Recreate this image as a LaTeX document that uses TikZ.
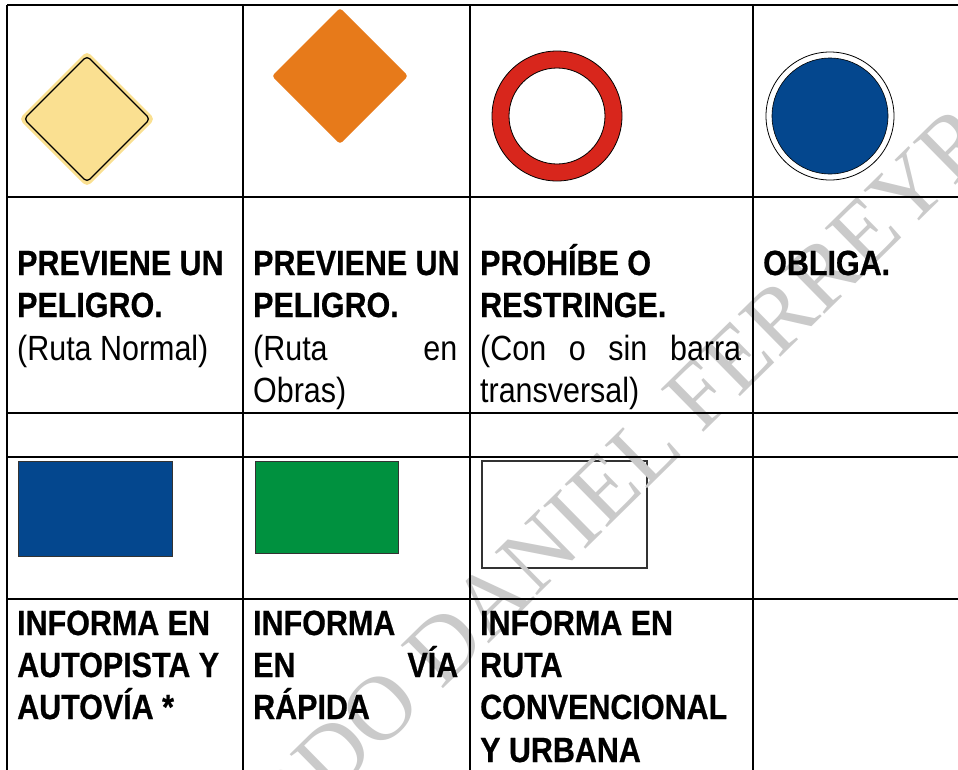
\documentclass[tikz,border=0pt]{standalone}
\usepackage{fontspec}
\setmainfont{Liberation Sans}
\newfontfamily\cellfont[FakeStretch=0.87, BoldFeatures={FakeBold=0.6}]{Liberation Sans}
\newfontfamily\wmfont{Liberation Serif}
\definecolor{signyellow}{HTML}{FAE091}
\definecolor{signorange}{HTML}{E77A1A}
\definecolor{signred}{HTML}{D8261C}
\definecolor{signblue}{HTML}{04478E}
\definecolor{signgreen}{HTML}{00913F}
\definecolor{wmgray}{HTML}{CACACA}
\tikzset{
  hline/.style={line width=1.8pt, black},
  vline/.style={line width=1.2pt, black},
  hd/.style={anchor=base west, inner sep=0pt, font=\cellfont\bfseries\fontsize{35}{42}\selectfont},
  tx/.style={anchor=base west, inner sep=0pt, font=\cellfont\fontsize{35}{42}\selectfont},
  wmark/.style={rotate=44.5, inner sep=0pt, text=wmgray, font=\wmfont\fontsize{92}{92}\selectfont},
  plate/.style={line width=1pt, draw=black!80},
}
\begin{document}
\begin{tikzpicture}[x=1pt,y=-1pt]
\useasboundingbox (0,0) rectangle (958,769);
\clip (0,0) rectangle (958,769);
\fill[white] (0,0) rectangle (958,769);

% row 1 signs
\fill[signyellow, rounded corners=5pt] (87,51) -- (155,119) -- (87,187) -- (19,119) -- cycle;
\draw[line width=1.3pt, rounded corners=4pt] (87,56) -- (150,119) -- (87,182) -- (24,119) -- cycle;
\fill[signorange, rounded corners=3pt] (340,8) -- (408,76) -- (340,144) -- (272,76) -- cycle;
\fill[signred, even odd rule, draw=black, line width=0.8pt] (557,116) circle[radius=65] (557,116) circle[radius=48];
\draw[line width=0.8pt, fill=white] (830,116) circle[radius=64];
\draw[line width=0.6pt, fill=signblue] (830,116) circle[radius=58];

% row 4 plates
\draw[plate, fill=signblue] (18,461) rectangle (172,556);
\draw[plate, fill=signgreen] (255,461) rectangle (398,553);
\draw[plate, line width=1.4pt, fill=white] (482,461) rectangle (647,568);

% watermark
\node[wmark] (wm) at (566,526) {RICARDO DANIEL FERREYRA};

% grid
\foreach \yy in {5,197,413,457,599} \draw[hline] (7,\yy) -- (960,\yy);
\draw[hline] (7,5) -- (7,770);
\foreach \xx in {243,470,753} \draw[vline] (\xx,5) -- (\xx,770);

% row 2 texts
\node[hd] (a1) at (17,275) {PREVIENE UN};
\node[hd] (a2) at (17,317) {PELIGRO.};
\node[tx] (a3) at (17,360) {(Ruta Normal)};
\node[hd] (b1) at (253,275) {PREVIENE UN};
\node[hd] (b2) at (253,317) {PELIGRO.};
\node[tx] (b3) at (253,360) {\makebox[204pt][s]{(Ruta en}};
\node[tx] (b4) at (253,402) {Obras)};
\node[hd] (c1) at (480,275) {PROHÍBE O};
\node[hd] (c2) at (480,317) {RESTRINGE.};
\node[tx] (c3) at (480,360) {\makebox[261pt][s]{(Con o sin barra}};
\node[tx] (c4) at (480,402) {transversal)};
\node[hd] (d1) at (763,275) {OBLIGA.};

% row 5 texts
\node[hd] (e1) at (17,635) {INFORMA EN};
\node[hd] (e2) at (17,677) {AUTOPISTA Y};
\node[hd] (e3) at (17,719) {AUTOVÍA *};
\node[hd] (f1) at (253,635) {INFORMA};
\node[hd] (f2) at (253,677) {\makebox[205pt][s]{EN VÍA}};
\node[hd] (f3) at (253,719) {RÁPIDA};
\node[hd] (g1) at (480,635) {INFORMA EN};
\node[hd] (g2) at (480,677) {RUTA};
\node[hd] (g3) at (480,719) {CONVENCIONAL};
\node[hd] (g4) at (480,762) {Y URBANA};
\end{tikzpicture}
\end{document}
